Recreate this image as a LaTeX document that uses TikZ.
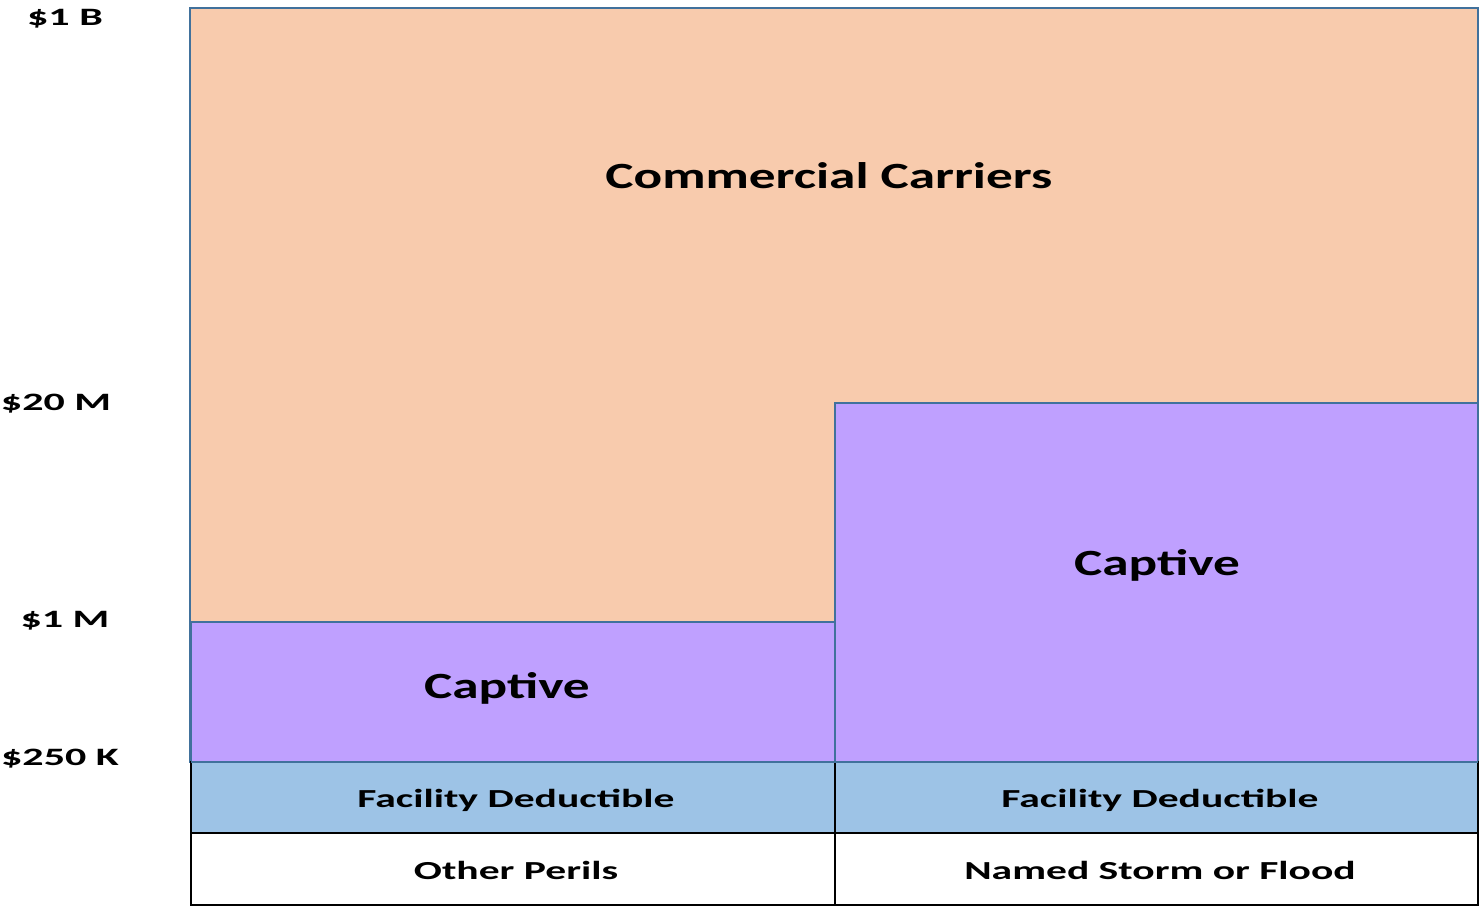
\documentclass[tikz,border=0pt]{standalone}
\usepackage{fontspec}
\setmainfont{Carlito}
\newfontfamily\bigfont{Carlito}[FakeStretch=1.44]
\newfontfamily\rowfont{Carlito}[FakeStretch=1.6]
\newfontfamily\tickfont{Carlito}[FakeStretch=1.68]
\usepackage{tikz}

\definecolor{carrierfill}{RGB}{248,203,173}
\definecolor{captivefill}{RGB}{191,160,255}
\definecolor{deductfill}{RGB}{157,195,230}
\definecolor{edgeblue}{RGB}{65,113,156}

\tikzset{
	layer/.style={draw=edgeblue, line width=1.5pt},
	tick/.style={font=\tickfont\bfseries\fontsize{25}{30}\selectfont},
	biglabel/.style={font=\bigfont\bfseries\fontsize{37}{42}\selectfont},
	rowlabel/.style={font=\rowfont\bfseries\fontsize{26}{30}\selectfont}
}

\begin{document}
\begin{tikzpicture}[x=1pt, y=-1pt]
	\useasboundingbox (0,0) rectangle (1480,905);
	% layers
	\draw[layer, fill=carrierfill] (190,8) rectangle (1478,762);
	\draw[layer, fill=captivefill] (191,622) rectangle (835,762);
	\draw[layer, fill=captivefill] (835,403) rectangle (1478,762);
	\draw[black, line width=1.5pt, fill=deductfill] (191,762) rectangle (835,833);
	\draw[black, line width=1.5pt, fill=deductfill] (835,762) rectangle (1478,833);
	\draw[edgeblue, line width=1.5pt] (191,762) -- (1478,762);
	\draw[black, line width=1.5pt] (191,833) rectangle (835,905);
	\draw[black, line width=1.5pt] (835,833) rectangle (1478,905);
	% labels
	\node[biglabel] (carriers) at (829,176) {Commercial Carriers};
	\node[biglabel] (captiveA) at (507,688) {Captive};
	\node[biglabel] (captiveB) at (1157,565) {Captive};
	\node[rowlabel] (deductA) at (516,800) {Facility Deductible};
	\node[rowlabel] (deductB) at (1160,800) {Facility Deductible};
	\node[rowlabel] (perilsA) at (516,870) {Other Perils};
	\node[rowlabel] (perilsB) at (1160,870) {Named Storm or Flood};
	% axis
	\node[tick] (oneB) at (65,19) {\$1 B};
	\node[tick] (twentyM) at (56,404) {\$20 M};
	\node[tick] (oneM) at (65,621) {\$1 M};
	\node[tick] (twofiftyK) at (60,759) {\$250 K};
\end{tikzpicture}
\end{document}
